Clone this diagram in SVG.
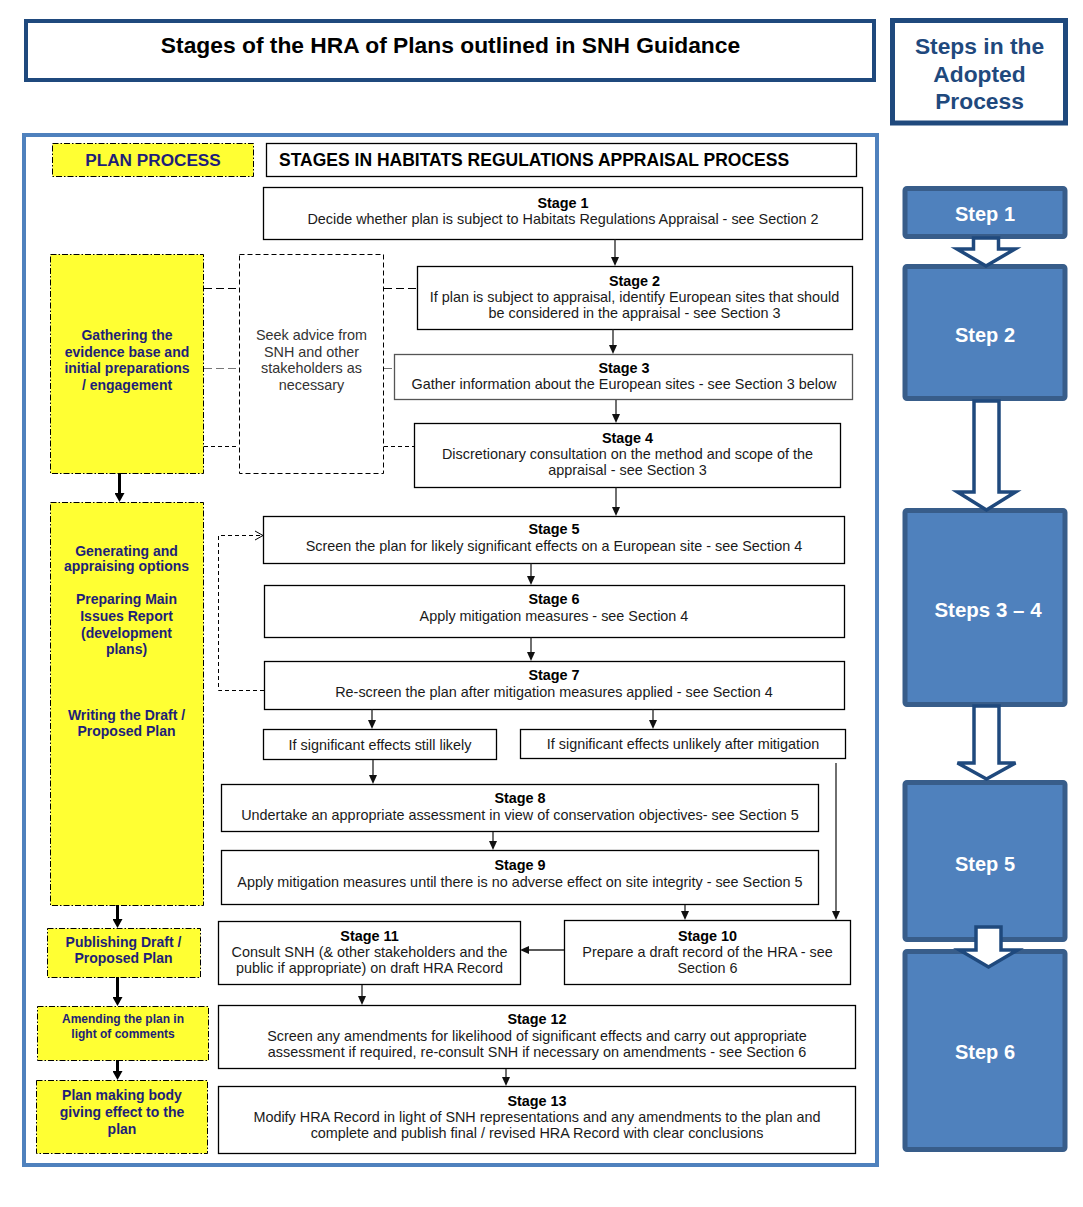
<svg xmlns="http://www.w3.org/2000/svg" width="1083" height="1207" viewBox="0 0 1083 1207">
<style>
text{font-family:"Liberation Sans",Arial,sans-serif;}
.box{fill:#fff;stroke:#000;stroke-width:1.3}
.gbox{fill:#fff;stroke:#555;stroke-width:1.3}
.t{font-size:14.4px;fill:#1a1a1a;text-anchor:middle}
.b{font-size:14.4px;font-weight:bold;fill:#000;text-anchor:middle}
.y{fill:#FFFF33;stroke:#000;stroke-width:1;stroke-dasharray:6 2 1.5 2}
.yt{font-size:14px;font-weight:bold;fill:#1E1E78;text-anchor:middle}
.ys{font-size:12px}
.step{fill:#4F81BD;stroke:#385D8A;stroke-width:5}
.st{font-size:20px;font-weight:bold;fill:#fff;text-anchor:middle}
.blk{fill:#fff;stroke:#1F497D;stroke-width:3.5;stroke-linejoin:miter}
.c{stroke:#222;stroke-width:1.3;fill:none;marker-end:url(#ah)}
.ct{stroke:#000;stroke-width:3;fill:none;marker-end:url(#aht)}
.d{stroke:#000;stroke-width:1;fill:none;stroke-dasharray:8 4}
.dg{stroke:#777;stroke-width:1;fill:none;stroke-dasharray:8 4}
.ds{stroke:#000;stroke-width:1;fill:none;stroke-dasharray:4 3}
.sk{fill:#333}
</style>
<defs>
<marker id="ah" markerUnits="userSpaceOnUse" markerWidth="9" markerHeight="8" refX="0" refY="4" orient="auto"><path d="M0,0 L9,4 L0,8 z" fill="#111"/></marker>
<marker id="aht" markerUnits="userSpaceOnUse" markerWidth="9" markerHeight="10" refX="0" refY="5" orient="auto"><path d="M0,0 L9,5 L0,10 z" fill="#000"/></marker>
</defs>
<rect x="0" y="0" width="1083" height="1207" fill="#fff"/>

<g id="title">
<rect x="26" y="21" width="848" height="59" fill="#fff" stroke="#1F497D" stroke-width="4"/>
<text x="450.5" y="53" font-size="22.8" font-weight="bold" fill="#000" text-anchor="middle">Stages of the HRA of Plans outlined in SNH Guidance</text>
</g>
<g id="steps-title">
<rect x="892.5" y="20.5" width="173" height="102.5" fill="#fff" stroke="#1F497D" stroke-width="5"/>
<text x="979.5" y="54" font-size="22.8" font-weight="bold" fill="#1F497D" text-anchor="middle">Steps in the</text>
<text x="979.5" y="82" font-size="22.8" font-weight="bold" fill="#1F497D" text-anchor="middle">Adopted</text>
<text x="979.5" y="109" font-size="22.8" font-weight="bold" fill="#1F497D" text-anchor="middle">Process</text>
</g>

<g id="panel">
<rect x="24" y="135" width="853" height="1030" fill="none" stroke="#4F81BD" stroke-width="4"/>
</g>

<g id="plan-process">
<rect class="y" x="52.5" y="143.5" width="201" height="33"/>
<text x="153" y="166" font-size="17.2" font-weight="bold" fill="#1E1E78" text-anchor="middle">PLAN PROCESS</text>
</g>
<g id="stages-header">
<rect class="box" x="266.5" y="143.5" width="590" height="33"/>
<text x="279" y="166" font-size="17.5" font-weight="bold" fill="#000">STAGES IN HABITATS REGULATIONS APPRAISAL PROCESS</text>
</g>

<g id="stage1">
<rect class="box" x="263.5" y="187.5" width="599" height="52"/>
<text class="b" x="563" y="208">Stage 1</text>
<text class="t" x="563" y="224">Decide whether plan is subject to Habitats Regulations Appraisal - see Section 2</text>
</g>
<g id="stage2">
<rect class="box" x="417.5" y="266.5" width="435" height="63"/>
<text class="b" x="634.5" y="286">Stage 2</text>
<text class="t" x="634.5" y="302">If plan is subject to appraisal, identify European sites that should</text>
<text class="t" x="634.5" y="318">be considered in the appraisal - see Section 3</text>
</g>
<g id="stage3">
<rect class="gbox" x="394.5" y="354.5" width="458" height="45"/>
<text class="b" x="624" y="373">Stage 3</text>
<text class="t" x="624" y="389">Gather information about the European sites - see Section 3 below</text>
</g>
<g id="stage4">
<rect class="box" x="414.5" y="423.5" width="426" height="64"/>
<text class="b" x="627.5" y="443">Stage 4</text>
<text class="t" x="627.5" y="459">Discretionary consultation on the method and scope of the</text>
<text class="t" x="627.5" y="475">appraisal - see Section 3</text>
</g>
<g id="stage5">
<rect class="box" x="263.5" y="516.5" width="581" height="47"/>
<text class="b" x="554" y="534">Stage 5</text>
<text class="t" x="554" y="551">Screen the plan for likely significant effects on a European site - see Section 4</text>
</g>
<g id="stage6">
<rect class="box" x="264.5" y="585.5" width="580" height="52"/>
<text class="b" x="554" y="604">Stage 6</text>
<text class="t" x="554" y="621">Apply mitigation measures - see Section 4</text>
</g>
<g id="stage7">
<rect class="box" x="264.5" y="661.5" width="580" height="48"/>
<text class="b" x="554" y="680">Stage 7</text>
<text class="t" x="554" y="697">Re-screen the plan after mitigation measures applied - see Section 4</text>
</g>
<g id="still-likely">
<rect class="box" x="263.5" y="729.5" width="233" height="30"/>
<text class="t" x="380" y="750">If significant effects still likely</text>
</g>
<g id="unlikely">
<rect class="box" x="520.5" y="729.5" width="325" height="29"/>
<text class="t" x="683" y="749">If significant effects unlikely after mitigation</text>
</g>
<g id="stage8">
<rect class="box" x="221.5" y="784.5" width="597" height="47"/>
<text class="b" x="520" y="803">Stage 8</text>
<text class="t" x="520" y="820">Undertake an appropriate assessment in view of conservation objectives- see Section 5</text>
</g>
<g id="stage9">
<rect class="box" x="221.5" y="850.5" width="597" height="54"/>
<text class="b" x="520" y="870">Stage 9</text>
<text class="t" x="520" y="887">Apply mitigation measures until there is no adverse effect on site integrity - see Section 5</text>
</g>
<g id="stage10">
<rect class="box" x="564.5" y="920.5" width="286" height="64"/>
<text class="b" x="707.5" y="941">Stage 10</text>
<text class="t" x="707.5" y="957">Prepare a draft record of the HRA - see</text>
<text class="t" x="707.5" y="973">Section 6</text>
</g>
<g id="stage11">
<rect class="box" x="218.5" y="921.5" width="302" height="63"/>
<text class="b" x="369.5" y="941">Stage 11</text>
<text class="t" x="369.5" y="957">Consult SNH (&amp; other stakeholders and the</text>
<text class="t" x="369.5" y="973">public if appropriate) on draft HRA Record</text>
</g>
<g id="stage12">
<rect class="box" x="218.5" y="1005.5" width="637" height="63"/>
<text class="b" x="537" y="1024">Stage 12</text>
<text class="t" x="537" y="1041">Screen any amendments for likelihood of significant effects and carry out appropriate</text>
<text class="t" x="537" y="1057">assessment if required, re-consult SNH if necessary on amendments - see Section 6</text>
</g>
<g id="stage13">
<rect class="box" x="218.5" y="1086.5" width="637" height="67"/>
<text class="b" x="537" y="1106">Stage 13</text>
<text class="t" x="537" y="1122">Modify HRA Record in light of SNH representations and any amendments to the plan and</text>
<text class="t" x="537" y="1138">complete and publish final / revised HRA Record with clear conclusions</text>
</g>

<g id="gathering">
<rect class="y" x="50.5" y="254.5" width="153" height="219"/>
<text class="yt" x="127" y="340">Gathering the</text>
<text class="yt" x="127" y="357">evidence base and</text>
<text class="yt" x="127" y="373">initial preparations</text>
<text class="yt" x="127" y="390">/ engagement</text>
</g>
<g id="seek-advice">
<rect x="239.5" y="254.5" width="144" height="219" fill="#fff" stroke="#000" stroke-width="1" stroke-dasharray="5 3"/>
<text class="t sk" x="311.5" y="340">Seek advice from</text>
<text class="t sk" x="311.5" y="357">SNH and other</text>
<text class="t sk" x="311.5" y="373">stakeholders as</text>
<text class="t sk" x="311.5" y="390">necessary</text>
</g>
<g id="generating">
<rect class="y" x="50.5" y="502.5" width="153" height="403"/>
<text class="yt" x="126.5" y="556">Generating and</text>
<text class="yt" x="126.5" y="571">appraising options</text>
<text class="yt" x="126.5" y="604">Preparing Main</text>
<text class="yt" x="126.5" y="621">Issues Report</text>
<text class="yt" x="126.5" y="638">(development</text>
<text class="yt" x="126.5" y="654">plans)</text>
<text class="yt" x="126.5" y="720">Writing the Draft /</text>
<text class="yt" x="126.5" y="736">Proposed Plan</text>
</g>
<g id="publishing">
<rect class="y" x="47.5" y="928.5" width="153" height="49"/>
<text class="yt" x="123.5" y="947">Publishing Draft /</text>
<text class="yt" x="123.5" y="963">Proposed Plan</text>
</g>
<g id="amending">
<rect class="y" x="37.5" y="1006.5" width="171" height="54"/>
<text class="yt ys" x="123" y="1023">Amending the plan in</text>
<text class="yt ys" x="123" y="1038">light of comments</text>
</g>
<g id="plan-making">
<rect class="y" x="36.5" y="1080.5" width="171" height="73"/>
<text class="yt" x="122" y="1100">Plan making body</text>
<text class="yt" x="122" y="1117">giving effect to the</text>
<text class="yt" x="122" y="1134">plan</text>
</g>

<g id="step1">
<rect class="step" x="905" y="188.5" width="160" height="48" rx="2"/>
<text class="st" x="985" y="221">Step 1</text>
</g>
<g id="step2">
<rect class="step" x="905" y="266.5" width="160" height="132" rx="2"/>
<text class="st" x="985" y="342">Step 2</text>
</g>
<g id="steps34">
<rect class="step" x="905" y="510.5" width="160" height="194" rx="2"/>
<text class="st" x="988" y="617" style="font-size:20.5px">Steps 3 – 4</text>
</g>
<g id="step5">
<rect class="step" x="905" y="782.5" width="160" height="157" rx="2"/>
<text class="st" x="985" y="871">Step 5</text>
</g>
<g id="step6">
<rect class="step" x="905" y="951.5" width="160" height="198" rx="2"/>
<text class="st" x="985" y="1059">Step 6</text>
</g>

<g id="connectors">
<line class="c" x1="615" y1="239.5" x2="615" y2="257"/>
<line class="c" x1="613" y1="329.5" x2="613" y2="345"/>
<line class="c" x1="616" y1="400" x2="616" y2="414"/>
<line class="c" x1="616" y1="487.5" x2="616" y2="507"/>
<line class="c" x1="531" y1="563.5" x2="531" y2="576"/>
<line class="c" x1="531" y1="637.5" x2="531" y2="652"/>
<line class="c" x1="372" y1="709.5" x2="372" y2="720"/>
<line class="c" x1="653" y1="709.5" x2="653" y2="720"/>
<line class="c" x1="373" y1="760" x2="373" y2="775"/>
<line class="c" x1="493" y1="832" x2="493" y2="841"/>
<line class="c" x1="685" y1="905" x2="685" y2="911"/>
<line class="c" x1="836" y1="763" x2="836" y2="911"/>
<line class="c" x1="564" y1="950" x2="529" y2="950"/>
<line class="c" x1="362" y1="985" x2="362" y2="996"/>
<line class="c" x1="506" y1="1069" x2="506" y2="1077"/>

<line class="ct" x1="119.5" y1="473" x2="119.5" y2="493"/>
<line class="ct" x1="117.5" y1="905" x2="117.5" y2="919"/>
<line class="ct" x1="117.5" y1="977" x2="117.5" y2="997"/>
<line class="ct" x1="117.5" y1="1060" x2="117.5" y2="1071"/>

<line class="d" x1="204" y1="288.5" x2="239" y2="288.5"/>
<line class="d" x1="384" y1="288.5" x2="417" y2="288.5"/>
<line class="dg" x1="204" y1="368.5" x2="239" y2="368.5"/>
<line class="dg" x1="384" y1="368.5" x2="394" y2="368.5"/>
<line class="ds" x1="204" y1="446.5" x2="239" y2="446.5"/>
<line class="ds" x1="384" y1="446.5" x2="414" y2="446.5"/>

<path class="ds" d="M264,690.5 H218.5 V535.5 H262"/>
<polyline points="255,531 263,535.5 255,540" fill="none" stroke="#000" stroke-width="1"/>

<path class="blk" d="M973.5,238 V249 H957 L986,266 L1015,249 H998.5 V238 Z"/>
<path class="blk" d="M974,401 V492 H957.5 L986.5,510 L1015.5,492 H999 V401 Z"/>
<path class="blk" d="M974,706 V763 H957.5 L986.5,779 L1015.5,763 H999 V706 Z"/>
<path class="blk" d="M976,927 V950 H959.5 L988.5,967 L1017.5,950 H1001 V927 Z"/>
</g>
</svg>
